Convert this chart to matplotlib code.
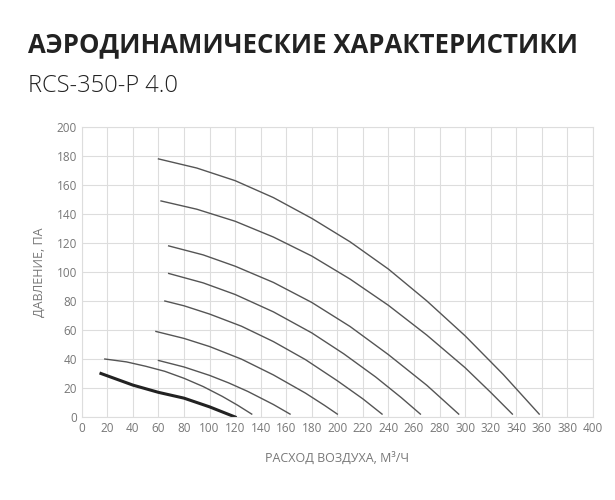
import matplotlib
matplotlib.use("Agg")
import matplotlib.pyplot as plt

plt.rcParams['font.family'] = ['Open Sans', 'DejaVu Sans']

curves_x = [
    [60, 90, 120, 150, 180, 210, 240, 270, 300, 330, 358],
    [62, 90, 120, 150, 180, 210, 240, 270, 300, 320, 337],
    [68, 95, 120, 150, 180, 210, 240, 270, 295],
    [68, 95, 120, 150, 180, 205, 230, 250, 265],
    [65, 80, 100, 125, 150, 175, 200, 220, 235],
    [58, 80, 100, 125, 150, 175, 190, 200],
    [60, 80, 100, 115, 130, 150, 163],
    [18, 35, 50, 65, 80, 95, 110, 122, 133],
]
curves_y = [
    [178, 171.7, 163, 151.3, 137, 120.8, 102, 80.1, 56, 29.2, 2],
    [149, 143.3, 135, 124.1, 111, 95.1, 77, 56.5, 34, 17, 2],
    [118, 111.8, 104, 92.8, 79, 62.4, 43, 21.9, 2],
    [99, 92.5, 84.5, 72.5, 58, 43.6, 27.6, 13.4, 2],
    [80, 76.7, 71, 62.6, 52, 39.6, 25, 12.5, 2],
    [59, 54.2, 48.6, 39.9, 29, 16.5, 8, 2],
    [39, 34.5, 28.7, 23.5, 17.6, 8.6, 2],
    [40, 38, 35, 31.5, 26.7, 21, 14.2, 8.1, 2],
]
bold_x = [15, 40, 60, 80, 100, 120]
bold_y = [30, 22, 17, 13, 7, 0]

fig = plt.figure(figsize=(6.15, 5.0), dpi=100)
ax = fig.add_axes([0.133, 0.166, 0.831, 0.58])
for xs, ys in zip(curves_x, curves_y):
    ax.plot(xs, ys, color='#555555', lw=1.0)
ax.plot(bold_x, bold_y, color='#222222', lw=2.2)
ax.set_xlim(0, 400)
ax.set_ylim(0, 200)
ax.set_xticks(range(0, 401, 20))
ax.set_yticks(range(0, 201, 20))
ax.grid(color='#dddddd', lw=0.8)
for s in ax.spines.values():
    s.set_color('#dddddd')
ax.tick_params(colors='#777777', labelsize=8.5, length=0)
ax.set_xlabel('РАСХОД ВОЗДУХА, М³/Ч', color='#777777', fontsize=9, labelpad=12)
ax.set_ylabel('ДАВЛЕНИЕ, ПА', color='#777777', fontsize=9, labelpad=8)
fig.text(0.045, 0.895, 'АЭРОДИНАМИЧЕСКИЕ ХАРАКТЕРИСТИКИ', fontsize=18.5, fontweight='bold', color='#222222')
fig.text(0.045, 0.815, 'RCS-350-P 4.0', fontsize=17, fontweight='light', color='#222222')
fig.savefig('out.png', dpi=100)
